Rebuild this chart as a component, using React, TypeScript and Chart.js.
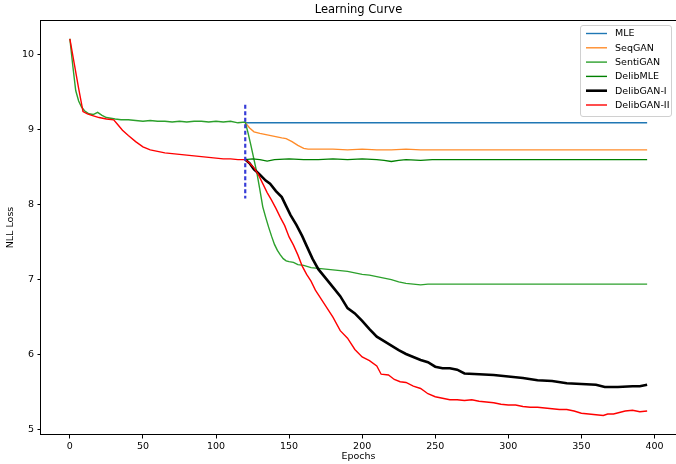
import { useEffect, useRef } from 'react';
import { Chart, registerables } from 'chart.js';

Chart.register(...registerables);

// ---- data (epoch, NLL loss) ----
const titleText = 'Learning Curve';
const xLabel = 'Epochs';
const yLabel = 'NLL Loss';
const xTicks = [0, 50, 100, 150, 200, 250, 300, 350, 400];
const yTicks = [5, 6, 7, 8, 9, 10];
const seriesLabels = ['MLE', 'SeqGAN', 'SentiGAN', 'DelibMLE', 'DelibGAN-I', 'DelibGAN-II'];

const mleCurve: [number, number][] = [
  [120, 9.09], [150, 9.09], [200, 9.09], [250, 9.09], [395, 9.09],
];

const seqGanCurve: [number, number][] = [
  [120, 9.09], [123, 9.02], [126, 8.97], [130, 8.95], [135, 8.93], [140, 8.91], [145, 8.89],
  [148, 8.88], [152, 8.84], [156, 8.79], [160, 8.75], [163, 8.74], [170, 8.74], [180, 8.74],
  [190, 8.73], [200, 8.74], [210, 8.73], [220, 8.73], [230, 8.74], [240, 8.73], [250, 8.73],
  [395, 8.73],
];

const sentiGanCurve: [number, number][] = [
  [0, 10.21], [2, 9.85], [4, 9.52], [6, 9.38], [8, 9.3], [10, 9.25], [13, 9.21], [16, 9.2],
  [19, 9.23], [22, 9.19], [25, 9.16], [28, 9.15], [31, 9.14], [35, 9.13], [40, 9.13],
  [45, 9.12], [50, 9.11], [55, 9.12], [60, 9.11], [65, 9.11], [70, 9.1], [75, 9.11],
  [80, 9.1], [85, 9.11], [90, 9.11], [95, 9.1], [100, 9.11], [105, 9.1], [110, 9.11],
  [115, 9.09], [120, 9.1],
  [122, 8.95], [124, 8.78], [126, 8.6], [128, 8.42], [130, 8.2], [132, 7.97], [134, 7.83],
  [136, 7.7], [138, 7.58], [140, 7.47], [142, 7.39], [144, 7.33], [146, 7.28], [148, 7.25],
  [150, 7.24], [153, 7.23], [156, 7.2], [160, 7.19], [165, 7.16], [170, 7.15], [175, 7.14],
  [180, 7.13], [185, 7.12], [190, 7.11], [195, 7.09], [200, 7.07], [205, 7.06], [210, 7.04],
  [215, 7.02], [220, 7.0], [225, 6.97], [230, 6.95], [235, 6.94], [240, 6.93], [245, 6.94],
  [250, 6.94], [395, 6.94],
];

const delibMleCurve: [number, number][] = [
  [120, 8.6], [125, 8.61], [130, 8.6], [135, 8.58], [140, 8.6], [150, 8.61], [160, 8.6],
  [170, 8.6], [180, 8.61], [190, 8.6], [200, 8.61], [210, 8.6], [215, 8.59], [220, 8.575],
  [225, 8.59], [230, 8.6], [240, 8.59], [248, 8.6], [395, 8.6],
];

const delibGanICurve: [number, number][] = [
  [120, 8.6], [123, 8.55], [126, 8.47], [130, 8.4], [134, 8.32], [137, 8.28], [141, 8.18],
  [145, 8.1], [148, 7.98], [151, 7.86], [155, 7.73], [159, 7.58], [162, 7.45], [166, 7.28],
  [170, 7.14], [175, 7.02], [180, 6.9], [185, 6.78], [190, 6.62], [195, 6.55], [200, 6.45],
  [205, 6.34], [210, 6.24], [215, 6.18], [220, 6.12], [225, 6.06], [230, 6.01], [235, 5.97],
  [240, 5.93], [245, 5.9], [250, 5.84], [255, 5.82], [260, 5.82], [265, 5.8], [270, 5.75],
  [280, 5.74], [290, 5.73], [300, 5.71], [310, 5.69], [320, 5.66], [330, 5.65], [340, 5.62],
  [350, 5.61], [360, 5.6], [366, 5.57], [375, 5.57], [385, 5.58], [390, 5.58], [395, 5.6],
];

const delibGanIICurve: [number, number][] = [
  [0, 10.21], [3, 9.88], [6, 9.55], [9, 9.24], [12, 9.21], [15, 9.19], [20, 9.16], [25, 9.14],
  [30, 9.13], [33, 9.06], [36, 8.99], [40, 8.92], [45, 8.84], [50, 8.77], [55, 8.73],
  [60, 8.71], [65, 8.69], [70, 8.68], [75, 8.67], [80, 8.66], [85, 8.65], [90, 8.64],
  [95, 8.63], [100, 8.62], [105, 8.61], [110, 8.61], [115, 8.6], [120, 8.6],
  [123, 8.55], [126, 8.49], [129, 8.4], [132, 8.28], [135, 8.16], [138, 8.06], [141, 7.95],
  [144, 7.83], [147, 7.72], [150, 7.57], [153, 7.46], [156, 7.33], [159, 7.18], [162, 7.07],
  [165, 6.98], [168, 6.86], [171, 6.77], [175, 6.65], [180, 6.5], [185, 6.32], [190, 6.22],
  [195, 6.07], [200, 5.97], [205, 5.92], [210, 5.85], [213, 5.74], [218, 5.73], [222, 5.67],
  [226, 5.64], [230, 5.63], [235, 5.58], [240, 5.55], [245, 5.48], [250, 5.44], [255, 5.42],
  [260, 5.4], [265, 5.4], [270, 5.39], [275, 5.4], [280, 5.38], [285, 5.37], [290, 5.36],
  [295, 5.34], [300, 5.33], [305, 5.33], [310, 5.31], [315, 5.3], [320, 5.3], [325, 5.29],
  [330, 5.28], [335, 5.27], [340, 5.27], [345, 5.25], [350, 5.22], [355, 5.21], [360, 5.2],
  [365, 5.19], [368, 5.21], [372, 5.21], [376, 5.23], [380, 5.25], [385, 5.26], [390, 5.24],
  [395, 5.25],
];

const switchMarker: [number, number][] = [
  [120, 9.33], [120, 8.08],
];

const curves = [mleCurve, seqGanCurve, sentiGanCurve, delibMleCurve, delibGanICurve, delibGanIICurve];
const colors = ['#1f77b4', '#ff8c2a', '#2ca02c', '#008000', '#000000', '#ff0000'];
const widths = [1.4, 1.4, 1.4, 1.4, 2.6, 1.4];

const toPoints = (c: [number, number][]) => c.map(([x, y]) => ({ x, y }));

const FONT = 'DejaVu Sans';

const framePlugin = {
  id: 'frameAndLegend',
  afterDatasetsDraw(chart: any) {
    const { ctx, chartArea: a } = chart;
    ctx.save();
    // spines
    ctx.strokeStyle = '#000';
    ctx.lineWidth = 1;
    const l = Math.round(a.left) - 0.5;
    const t = Math.round(a.top) + 0.5;
    const r = Math.round(a.right) + 0.5;
    const b = Math.round(a.bottom) - 0.5;
    ctx.strokeRect(l, t, r - l, b - t);

    // title
    ctx.fillStyle = '#000';
    ctx.font = `11.5px "${FONT}"`;
    ctx.textAlign = 'center';
    ctx.textBaseline = 'middle';
    ctx.fillText(titleText, (a.left + a.right) / 2, 10.5);

    // legend
    const items = chart.data.datasets.filter((d: any) => d.label);
    const bx = 580.5, by = 25.5, bw = 91, bh = 91;
    ctx.beginPath();
    if (ctx.roundRect) ctx.roundRect(bx, by, bw, bh, 2.5);
    else ctx.rect(bx, by, bw, bh);
    ctx.fillStyle = 'rgba(255,255,255,0.85)';
    ctx.fill();
    ctx.strokeStyle = '#d0d0d0';
    ctx.lineWidth = 1;
    ctx.stroke();
    ctx.font = `9.5px "${FONT}"`;
    ctx.textAlign = 'left';
    ctx.textBaseline = 'middle';
    items.forEach((d: any, i: number) => {
      const y = 33.5 + i * 14.3;
      ctx.beginPath();
      ctx.strokeStyle = d.borderColor;
      ctx.lineWidth = d.borderWidth;
      ctx.moveTo(586, y);
      ctx.lineTo(607, y);
      ctx.stroke();
      ctx.fillStyle = '#000';
      ctx.fillText(d.label, 615, y + 0.5);
    });
    ctx.restore();
  },
};

export default function App() {
  const ref = useRef<HTMLCanvasElement | null>(null);

  useEffect(() => {
    document.body.style.margin = '0';
    const canvas = ref.current;
    if (!canvas) return;
    Chart.defaults.font.family = FONT;
    Chart.defaults.font.size = 9.5;
    Chart.defaults.color = '#000';

    const datasets: any[] = curves.map((c, i) => ({
      label: seriesLabels[i],
      data: toPoints(c),
      borderColor: colors[i],
      backgroundColor: colors[i],
      borderWidth: widths[i],
      pointRadius: 0,
      tension: 0,
      fill: false,
      order: 20 - i,
    }));
    datasets.push({
      label: '',
      data: toPoints(switchMarker),
      borderColor: 'rgb(55,60,215)',
      backgroundColor: 'rgb(55,60,215)',
      borderWidth: 2.2,
      borderDash: [4, 2.5],
      pointRadius: 0,
      fill: false,
      order: 0,
    });

    const chart = new Chart(canvas, {
      type: 'line',
      data: { datasets },
      plugins: [framePlugin],
      options: {
        animation: false,
        responsive: false,
        maintainAspectRatio: false,
        parsing: false as any,
        normalized: true,
        layout: { padding: { top: 20, left: 0, right: 0, bottom: 0 } },
        plugins: {
          legend: { display: false },
          title: { display: false },
          tooltip: { enabled: false },
        },
        scales: {
          x: {
            type: 'linear',
            min: -19.75,
            max: 414.75,
            afterBuildTicks: (s: any) => {
              s.ticks = xTicks.map((v) => ({ value: v }));
            },
            afterFit: (s: any) => {
              s.height = 29;
            },
            grid: {
              display: true,
              drawOnChartArea: false,
              drawTicks: true,
              tickLength: 3.5,
              color: '#000',
            },
            border: { display: false },
            ticks: {
              padding: 2,
              maxRotation: 0,
              autoSkip: false,
              color: '#000',
              font: { size: 9.5, family: FONT },
            },
            title: {
              display: true,
              text: xLabel,
              color: '#000',
              font: { size: 9.5, family: FONT },
              padding: { top: 0, bottom: 2 },
            },
          },
          y: {
            type: 'linear',
            min: 4.93,
            max: 10.46,
            afterBuildTicks: (s: any) => {
              s.ticks = yTicks.map((v) => ({ value: v }));
            },
            afterFit: (s: any) => {
              s.width = 41;
            },
            grid: {
              display: true,
              drawOnChartArea: false,
              drawTicks: true,
              tickLength: 3.5,
              color: '#000',
            },
            border: { display: false },
            ticks: {
              padding: 3.5,
              autoSkip: false,
              color: '#000',
              font: { size: 9.5, family: FONT },
            },
            title: {
              display: true,
              text: yLabel,
              color: '#000',
              font: { size: 9.5, family: FONT },
              padding: { top: 5, bottom: 0 },
            },
          },
        },
      },
    });
    return () => chart.destroy();
  }, []);

  return (
    <canvas
      ref={ref}
      width={676}
      height={464}
      style={{ display: 'block', width: 676, height: 464 }}
    />
  );
}
